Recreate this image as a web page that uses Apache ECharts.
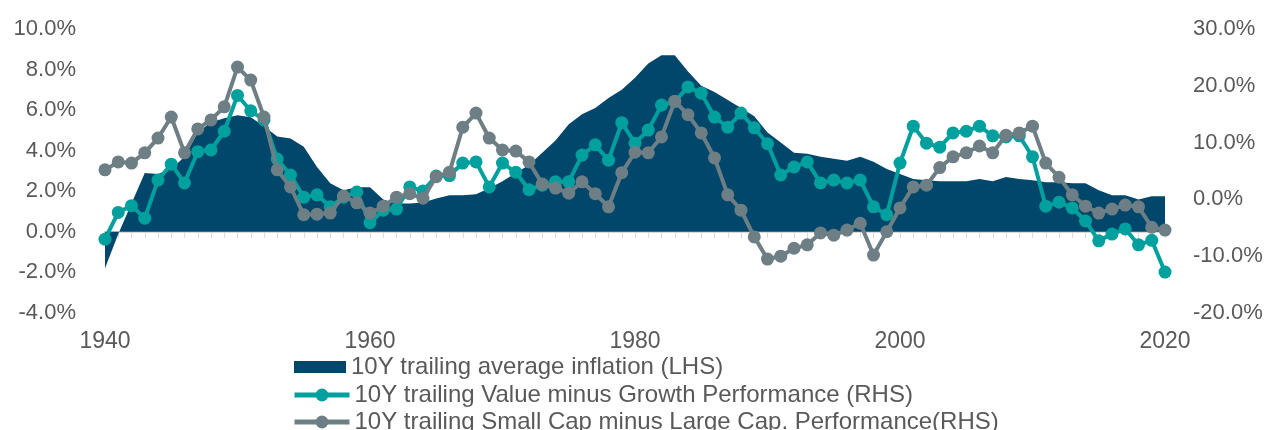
<!DOCTYPE html>
<html>
<head>
<meta charset="utf-8">
<script src="https://cdn.jsdelivr.net/npm/echarts@6/dist/echarts.min.js"></script>
<style>
  html, body { margin: 0; padding: 0; background: #fff; }
  #chart { width: 1269px; height: 430px; }
</style>
</head>
<body>
<div id="chart"></div>
<script>
// years 1940 .. 2020
const years = []
for (let y = 1940; y <= 2020; y++) years.push(String(y))

const xTickLabels = ['1940', '1960', '1980', '2000', '2020']

// 10Y trailing average inflation, % (left axis)
const inflation = [
  -1.8, -0.1, 1.4, 2.9, 2.85, 3.1, 3.7, 4.9, 5.4, 5.6,
  5.75, 5.65, 5.2, 4.7, 4.6, 4.2, 3.2, 2.4, 2.05, 2.2,
  2.2, 1.6, 1.4, 1.4, 1.45, 1.65, 1.8, 1.8, 1.85, 2.15,
  2.5, 2.9, 3.3, 3.9, 4.5, 5.3, 5.8, 6.1, 6.6, 7.0,
  7.6, 8.3, 8.7, 8.7, 7.9, 7.2, 6.9, 6.5, 6.1, 5.7,
  4.9, 4.4, 3.9, 3.85, 3.7, 3.6, 3.5, 3.7, 3.45, 3.1,
  2.85, 2.6, 2.55, 2.5, 2.5, 2.5, 2.6, 2.5, 2.7, 2.6,
  2.55, 2.45, 2.45, 2.4, 2.4, 2.05, 1.8, 1.8, 1.6, 1.75,
  1.75
]

// 10Y trailing value minus growth, % (right axis)
const valueMinusGrowth = [
  -7.0, -2.3, -1.1, -3.3, 3.4, 6.2, 2.9, 8.4, 8.7, 12.0,
  18.3, 15.6, 14.0, 7.1, 4.3, 0.4, 0.8, -1.3, 0.4, 1.3,
  -4.1, -1.9, -1.7, 2.2, 1.5, 4.1, 4.2, 6.4, 6.6, 2.2,
  6.4, 4.8, 1.7, 2.5, 3.1, 3.1, 7.8, 9.6, 6.9, 13.5,
  9.9, 12.2, 16.6, 17.2, 19.8, 18.7, 14.5, 12.7, 15.2, 12.6,
  9.8, 4.3, 5.7, 6.6, 2.9, 3.4, 2.9, 3.4, -1.3, -2.7,
  6.4, 12.9, 9.9, 9.2, 11.7, 12.0, 12.9, 11.2, 11.0, 11.2,
  7.5, -1.2, -0.5, -1.5, -3.8, -7.3, -6.1, -5.2, -8.0, -7.2,
  -12.8
]

// 10Y trailing small cap minus large cap, % (right axis)
const smallMinusLarge = [
  5.2, 6.6, 6.4, 8.2, 10.8, 14.5, 8.2, 12.4, 14.0, 16.3,
  23.3, 21.0, 14.5, 5.2, 2.2, -2.7, -2.6, -2.4, 0.6, -0.6,
  -2.4, -1.2, 0.4, 1.0, 0.2, 4.0, 4.8, 12.7, 15.2, 10.8,
  8.7, 8.5, 6.6, 2.7, 2.0, 1.1, 3.1, 1.0, -1.3, 4.7,
  8.3, 8.2, 11.0, 17.3, 14.9, 11.7, 7.3, 0.8, -1.9, -6.6,
  -10.5, -10.0, -8.6, -8.0, -5.9, -6.3, -5.4, -4.2, -9.8, -5.7,
  -1.5, 2.2, 2.5, 5.6, 7.5, 8.2, 9.4, 8.2, 11.3, 11.7,
  12.9, 6.4, 3.9, 0.8, -1.2, -2.4, -1.7, -1.0, -1.3, -4.9,
  -5.4
]

const seriesNames = [
  '10Y trailing average inflation (LHS)',
  '10Y trailing Value minus Growth Performance (RHS)',
  '10Y trailing Small Cap minus Large Cap. Performance(RHS)'
]

const textColor = '#595959'
const fontFamily = '"Liberation Sans", Arial, sans-serif'
const navy = '#00476b'
const teal = '#00a09e'
const grey = '#6d7f85'

// one legend block per row so the last row is not wrapped into a column
function legendRow (name, left, top, icon, w, h) {
  const item = { name: name }
  if (icon) item.icon = icon
  return {
    orient: 'vertical',
    left: left,
    top: top,
    padding: 0,
    itemWidth: w,
    itemHeight: h,
    itemGap: 0,
    itemStyle: { borderWidth: 0 },
    lineStyle: { width: 5 },
    textStyle: { color: textColor, fontSize: 24, lineHeight: 24, fontFamily: fontFamily },
    data: [item]
  }
}

const chart = echarts.init(document.getElementById('chart'))
const option = {
  animation: false,
  textStyle: { fontFamily: fontFamily },
  grid: { left: 105, right: 104, top: 29, bottom: 117 },
  legend: [
    legendRow(seriesNames[0], 294, 355, 'rect', 52, 12),
    legendRow(seriesNames[1], 292, 383, null, 55, 16),
    legendRow(seriesNames[2], 292, 410, null, 55, 16)
  ],
  xAxis: [
    {
      type: 'category',
      data: years,
      boundaryGap: false,
      axisLine: { onZero: true, lineStyle: { color: '#d9d9d9', width: 2 } },
      axisTick: { show: true, interval: 0, length: 6, lineStyle: { color: '#d9d9d9', width: 1 } },
      axisLabel: { show: false },
      splitLine: { show: false }
    },
    {
      type: 'category',
      data: years,
      boundaryGap: false,
      position: 'bottom',
      axisLine: { show: false, onZero: false },
      axisTick: { show: false },
      axisLabel: {
        interval: 0,
        margin: 17,
        color: textColor,
        fontSize: 23,
        formatter: function (v) { return xTickLabels.indexOf(v) >= 0 ? v : '' }
      },
      splitLine: { show: false }
    }
  ],
  yAxis: [
    {
      type: 'value',
      min: -4,
      max: 10,
      interval: 2,
      position: 'left',
      axisLine: { show: false },
      axisTick: { show: false },
      splitLine: { show: false },
      axisLabel: {
        color: textColor,
        fontSize: 22,
        margin: 29,
        formatter: function (v) { return v.toFixed(1) + '%' }
      }
    },
    {
      type: 'value',
      min: -20,
      max: 30,
      interval: 10,
      position: 'right',
      axisLine: { show: false },
      axisTick: { show: false },
      splitLine: { show: false },
      axisLabel: {
        color: textColor,
        fontSize: 22,
        margin: 28,
        formatter: function (v) { return v.toFixed(1) + '%' }
      }
    }
  ],
  series: [
    {
      name: seriesNames[0],
      type: 'line',
      xAxisIndex: 0,
      yAxisIndex: 0,
      data: inflation,
      showSymbol: false,
      symbol: 'none',
      lineStyle: { width: 0 },
      itemStyle: { color: navy },
      areaStyle: { color: navy, opacity: 1 },
      z: 1
    },
    {
      name: seriesNames[1],
      type: 'line',
      xAxisIndex: 0,
      yAxisIndex: 1,
      data: valueMinusGrowth,
      symbol: 'circle',
      symbolSize: 13,
      showSymbol: true,
      showAllSymbol: true,
      lineStyle: { width: 4, color: teal },
      itemStyle: { color: teal },
      z: 3
    },
    {
      name: seriesNames[2],
      type: 'line',
      xAxisIndex: 0,
      yAxisIndex: 1,
      data: smallMinusLarge,
      symbol: 'circle',
      symbolSize: 13,
      showSymbol: true,
      showAllSymbol: true,
      lineStyle: { width: 4, color: grey },
      itemStyle: { color: grey },
      z: 4
    }
  ]
}
chart.setOption(option)
</script>
</body>
</html>
